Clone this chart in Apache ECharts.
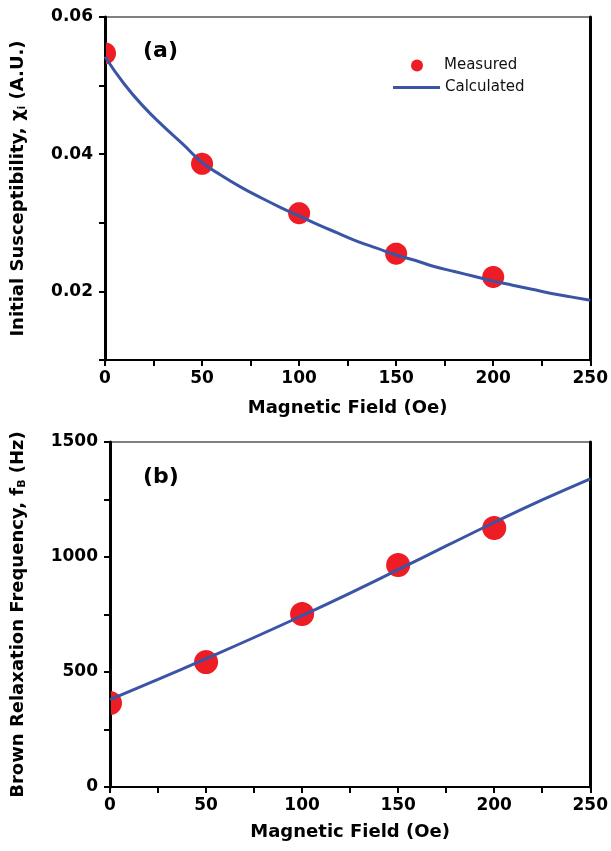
<!DOCTYPE html>
<html><head><meta charset="utf-8">
<script src="https://cdn.jsdelivr.net/npm/echarts@6/dist/echarts.min.js"></script>
<style>html,body{margin:0;padding:0;background:#fff}#c{width:611px;height:851px}</style>
</head><body><div id="c"></div>
<script>
// ---- data (a) ----
const fieldMeasuredA = [0, 50, 100, 150, 200];
const chiMeasured = [0.0547, 0.0386, 0.0314, 0.0255, 0.0221];
const fieldCalcA = [0,10,20,30,40,50,60,70,80,90,100,110,120,130,140,150,160,170,180,190,200,210,220,230,240,250];
const chiCalc = [0.0542,0.0502,0.0469,0.0441,0.0415,0.0388,0.0369,0.0352,0.0337,0.0323,0.0310,0.0297,0.0285,0.0273,0.0263,0.0253,0.0245,0.0236,0.0229,0.0222,0.0215,0.0209,0.0203,0.0197,0.0192,0.0187];
// ---- data (b) ----
const fieldMeasuredB = [0, 50, 100, 150, 200];
const fBMeasured = [365, 543, 752, 965, 1126];
const fieldCalcB = [0,25,50,75,100,125,150,175,200,225,250];
const fBCalc = [380,468,558,650,745,843,945,1048,1150,1248,1340];
// ---- tick labels ----
const xTickLabels = ['0','50','100','150','200','250'];
const yTickLabelsA = ['0.02','0.04','0.06'];
const yTickLabelsB = ['0','500','1000','1500'];

const RED = '#ee1c25', BLUE = '#3b55a6';
const FONT = 'DejaVu Sans';
const zip = (a, b) => a.map((v, i) => [v, b[i]]);

const chart = echarts.init(document.getElementById('c'), null, {renderer: 'canvas'});

function xAxis(gi, gap) {
  return {
    type: 'value', gridIndex: gi, min: 0, max: 250, interval: 25,
    name: 'Magnetic Field (Oe)', nameLocation: 'middle', nameGap: gap,
    nameTextStyle: {fontFamily: FONT, fontWeight: 'bold', fontSize: 18, color: '#000'},
    axisLine: {show: true, lineStyle: {color: '#000', width: 2}},
    axisTick: {show: true, inside: false, length: 6, lineStyle: {color: '#000', width: 2}},
    axisLabel: {margin: 10, fontFamily: FONT, fontWeight: 'bold', fontSize: 17, color: '#000',
      formatter: v => xTickLabels.includes(String(v)) ? String(v) : ''},
    splitLine: {show: false}
  };
}
function rightAxis(gi, min, max) {
  return {type: 'value', gridIndex: gi, position: 'right', min: min, max: max,
    axisLine: {show: true, lineStyle: {color: '#000', width: 3}},
    axisTick: {show: false}, axisLabel: {show: false}, splitLine: {show: false}};
}
// red markers, clipped to the plotting area like in the original
function dots(name, xi, yi, r, data) {
  return {
    name: name, type: 'custom', xAxisIndex: xi, yAxisIndex: yi, z: 2,
    itemStyle: {color: RED, opacity: 1},
    encode: {x: 0, y: 1},
    renderItem: (params, api) => {
      const p = api.coord([api.value(0), api.value(1)]);
      const cs = params.coordSys;
      const pts = [];
      for (let k = 0; k < 72; k++) {
        const a = k / 72 * Math.PI * 2;
        const x = Math.min(cs.x + cs.width, Math.max(cs.x + 1, p[0] + r * Math.cos(a)));
        const y = Math.min(cs.y + cs.height, Math.max(cs.y, p[1] + r * Math.sin(a)));
        pts.push([x, y]);
      }
      return {type: 'polygon', shape: {points: pts}, style: {fill: RED}};
    },
    data: data
  };
}

const option = {
  animation: false,
  backgroundColor: '#fff',
  grid: [
    {left: 105, top: 17, width: 487, height: 343, show: true, borderColor: '#000', borderWidth: 1},
    {left: 110, top: 442, width: 485, height: 345, show: true, borderColor: '#000', borderWidth: 1}
  ],
  title: [
    {text: '(a)', left: 138, top: 35, textStyle: {fontFamily: FONT, fontWeight: 'bold', fontSize: 22, color: '#000'}},
    {text: '(b)', left: 138, top: 461, textStyle: {fontFamily: FONT, fontWeight: 'bold', fontSize: 22, color: '#000'}}
  ],
  legend: [
    {data: [{name: 'Measured', icon: 'circle'}], left: 411, top: 58, padding: 0,
      itemWidth: 12, itemHeight: 12,
      textStyle: {fontFamily: FONT, fontSize: 15, color: '#111', padding: [0, 0, 0, 16]}},
    {data: [{name: 'Calculated', icon: 'rect'}], left: 393, top: 80, padding: 0,
      itemWidth: 47, itemHeight: 3,
      textStyle: {fontFamily: FONT, fontSize: 15, color: '#111'}}
  ],
  xAxis: [xAxis(0, 39), xAxis(1, 36)],
  yAxis: [
    {type: 'value', gridIndex: 0, min: 0.01, max: 0.06, interval: 0.01,
      name: 'Initial Susceptibility, χ{s|i} (A.U.)', nameLocation: 'middle', nameGap: 77,
      nameTextStyle: {fontFamily: FONT, fontWeight: 'bold', fontSize: 18, color: '#000',
        rich: {s: {fontFamily: FONT, fontWeight: 'bold', fontSize: 11, color: '#000', verticalAlign: 'bottom', padding: [8, 0, 0, 0]}}},
      axisLine: {show: true, lineStyle: {color: '#000', width: 3}},
      axisTick: {show: true, length: 6, lineStyle: {color: '#000', width: 2}},
      axisLabel: {margin: 12, fontFamily: FONT, fontWeight: 'bold', fontSize: 17, color: '#000',
        formatter: v => { const s = v.toFixed(2); return yTickLabelsA.includes(s) ? s : ''; }},
      splitLine: {show: false}},
    rightAxis(0, 0.01, 0.06),
    {type: 'value', gridIndex: 1, min: 0, max: 1500, interval: 250,
      name: 'Brown Relaxation Frequency, f{s|B} (Hz)', nameLocation: 'middle', nameGap: 82,
      nameTextStyle: {fontFamily: FONT, fontWeight: 'bold', fontSize: 18, color: '#000',
        rich: {s: {fontFamily: FONT, fontWeight: 'bold', fontSize: 11, color: '#000', verticalAlign: 'bottom', padding: [8, 0, 0, 0]}}},
      axisLine: {show: true, lineStyle: {color: '#000', width: 3}},
      axisTick: {show: true, length: 6, lineStyle: {color: '#000', width: 2}},
      axisLabel: {margin: 12, fontFamily: FONT, fontWeight: 'bold', fontSize: 17, color: '#000',
        formatter: v => { const s = String(Math.round(v)); return yTickLabelsB.includes(s) ? s : ''; }},
      splitLine: {show: false}},
    rightAxis(1, 0, 1500)
  ],
  series: [
    dots('Measured', 0, 0, 11, zip(fieldMeasuredA, chiMeasured)),
    {name: 'Calculated', type: 'line', xAxisIndex: 0, yAxisIndex: 0, z: 3, smooth: true,
      showSymbol: false, symbol: 'none', lineStyle: {color: BLUE, width: 3}, itemStyle: {color: BLUE},
      data: zip(fieldCalcA, chiCalc)},
    dots('fB measured', 1, 2, 12, zip(fieldMeasuredB, fBMeasured)),
    {name: 'fB calculated', type: 'line', xAxisIndex: 1, yAxisIndex: 2, z: 3, smooth: true,
      showSymbol: false, symbol: 'none', lineStyle: {color: BLUE, width: 3}, itemStyle: {color: BLUE},
      data: zip(fieldCalcB, fBCalc)}
  ]
};
chart.setOption(option);
</script>
</body></html>
